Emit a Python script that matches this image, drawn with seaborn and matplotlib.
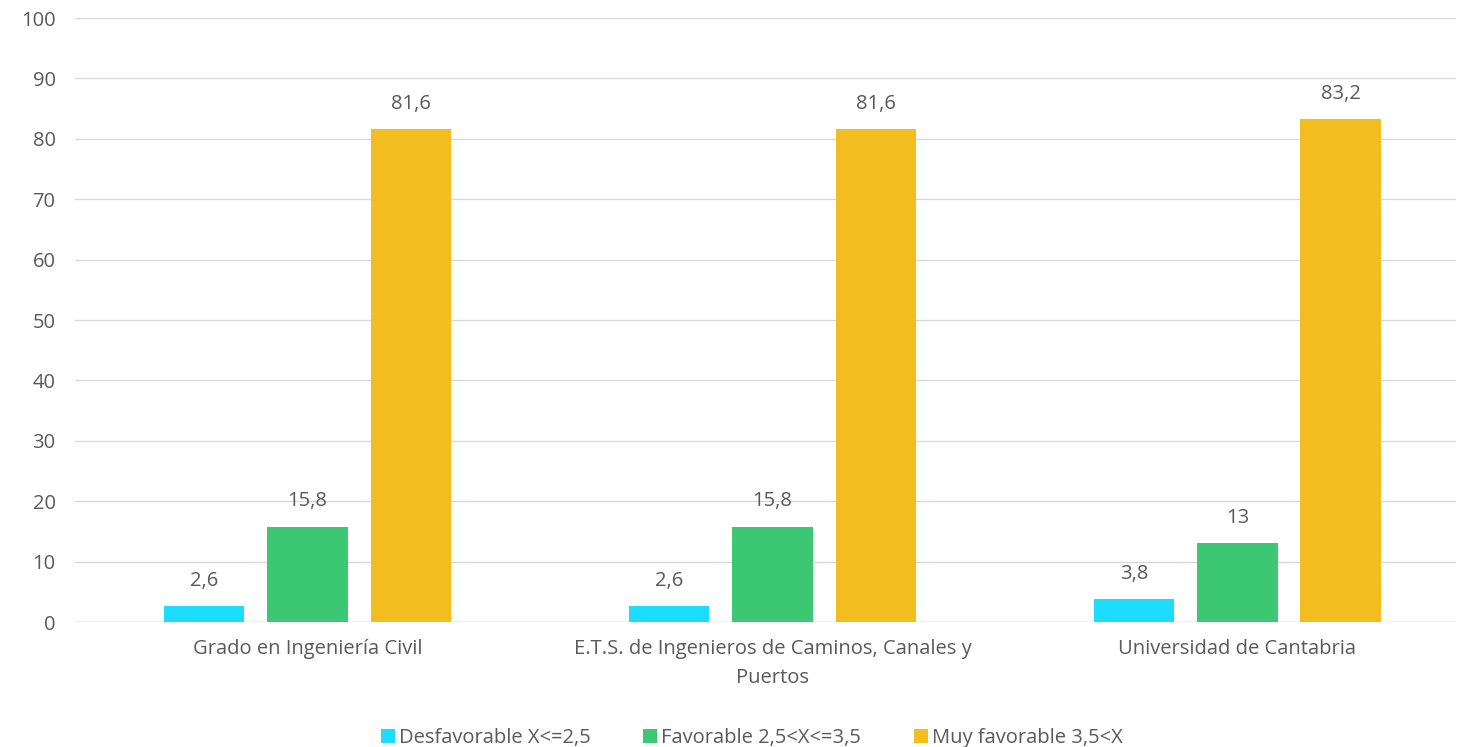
import numpy as np
import pandas as pd
import matplotlib
matplotlib.use("Agg")
import matplotlib.pyplot as plt
import seaborn as sns

# =========================
# Data
# =========================
categories = ["Grado en Ingeniería Civil",
              "E.T.S. de Ingenieros de Caminos, Canales y\nPuertos",
              "Universidad de Cantabria"]
series = ["Desfavorable X<=2,5", "Favorable 2,5<X<=3,5", "Muy favorable 3,5<X"]
desfavorable = [2.6, 2.6, 3.8]
favorable = [15.8, 15.8, 13.0]
muy_favorable = [81.6, 81.6, 83.2]
colors = ["#1CDDFF", "#3CC873", "#F4BD1F"]

df = pd.DataFrame({
    "Centro": categories * 3,
    "Serie": [series[0]] * 3 + [series[1]] * 3 + [series[2]] * 3,
    "Valor": desfavorable + favorable + muy_favorable,
})

# =========================
# Plot
# =========================
sns.set_style("white")
plt.rcParams["font.family"] = ["Open Sans", "DejaVu Sans"]
text_color = "#595959"
fs = 14.5

fig = plt.figure(figsize=(14.58, 7.47), dpi=100)
ax = fig.add_axes([75 / 1458, 125 / 747, 1381 / 1458, 604 / 747])

sns.barplot(data=df, x="Centro", y="Valor", hue="Serie", palette=colors,
            width=0.665, gap=0.223, ax=ax, saturation=1, legend=True,
            linewidth=0)

def fmt(v):
    s = f"{v:.1f}".replace(".", ",")
    return s[:-2] if s.endswith(",0") else s

for cont in ax.containers:
    ax.bar_label(cont, labels=[fmt(b.get_height()) for b in cont],
                 padding=11, fontsize=fs, color=text_color)

ax.set_ylim(0, 100)
ax.set_xlim(-0.5, 2.47)
ax.set_yticks(range(0, 101, 10))
ax.yaxis.grid(True, color="#D9D9D9", linewidth=1)
ax.set_axisbelow(True)
for s in ax.spines.values():
    s.set_visible(False)
ax.axhline(0, color="#D9D9D9", linewidth=1, zorder=0)
ax.set_xlabel("")
ax.set_ylabel("")
ax.tick_params(axis="both", length=0, labelsize=fs, labelcolor=text_color)
ax.tick_params(axis="y", pad=14)
ax.tick_params(axis="x", pad=12)
for lbl in ax.get_xticklabels():
    lbl.set_linespacing(1.6)

ax.legend(loc="upper center", bbox_to_anchor=(0.49, -0.145), ncol=3,
          frameon=False, fontsize=fs, labelcolor=text_color,
          handlelength=0.7, handleheight=0.7, handletextpad=0.2,
          columnspacing=2.6)

fig.savefig("out.png", dpi=100)
